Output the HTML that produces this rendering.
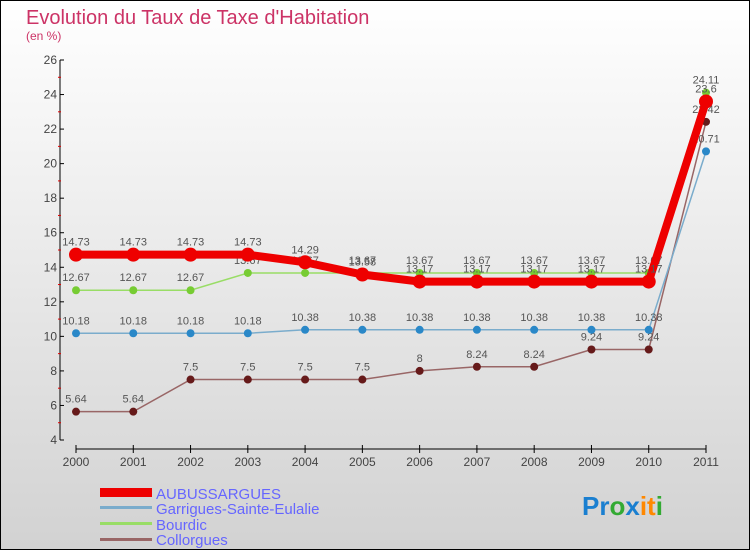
<!DOCTYPE html>
<html><head><meta charset="utf-8"><style>
body{margin:0;width:750px;height:550px;overflow:hidden;font-family:"Liberation Sans",sans-serif}
svg text{font-family:"Liberation Sans",sans-serif}
</style></head><body>
<svg id="c" width="750" height="550">
<defs><linearGradient id="bg" x1="0" y1="0" x2="0" y2="1"><stop offset="0" stop-color="#ffffff"/><stop offset="1" stop-color="#d2d2d2"/></linearGradient></defs>
<rect x="0.5" y="0.5" width="749" height="549" fill="url(#bg)" stroke="#000"/>
<text x="26" y="24" font-size="20" fill="#cc3366">Evolution du Taux de Taxe d'Habitation</text>
<text x="26" y="40" font-size="12" fill="#cc3366">(en %)</text>
<g id="axes"></g><g id="series"></g>
<g>
<rect x="100" y="488" width="52" height="9" fill="#ee0000"/>
<text x="156" y="499" font-size="15" fill="#6666ff">AUBUSSARGUES</text>
<rect x="100" y="506" width="52" height="3" fill="#7aaccc"/>
<text x="156" y="514" font-size="15" fill="#6666ff">Garrigues-Sainte-Eulalie</text>
<rect x="100" y="522" width="52" height="3" fill="#99dd66"/>
<text x="156" y="530" font-size="15" fill="#6666ff">Bourdic</text>
<rect x="100" y="538" width="52" height="3" fill="#996666"/>
<text x="156" y="545" font-size="15" fill="#6666ff">Collorgues</text>
</g>
<text x="582" y="515" font-size="26" font-weight="bold"><tspan fill="#1a7fd0">Pr</tspan><tspan fill="#33aa33">o</tspan><tspan fill="#1a7fd0">x</tspan><tspan fill="#ff8800">it</tspan><tspan fill="#33aa33">i</tspan></text>
</svg>
<script>
const years=["2000","2001","2002","2003","2004","2005","2006","2007","2008","2009","2010","2011"];
const yTicks=[4,6,8,10,12,14,16,18,20,22,24,26];
const aubussargues=[14.73,14.73,14.73,14.73,14.29,13.58,13.17,13.17,13.17,13.17,13.17,23.6];
const garrigues=[10.18,10.18,10.18,10.18,10.38,10.38,10.38,10.38,10.38,10.38,10.38,20.71];
const bourdic=[12.67,12.67,12.67,13.67,13.67,13.67,13.67,13.67,13.67,13.67,13.67,24.11];
const collorgues=[5.64,5.64,7.5,7.5,7.5,7.5,8,8.24,8.24,9.24,9.24,22.42];
const NS="http://www.w3.org/2000/svg";
const xs=i=>76+i*(630/11);
const ys=v=>440-(v-4)*(380/22);
function mk(tag,attrs,parent){const e=document.createElementNS(NS,tag);for(const k in attrs)e.setAttribute(k,attrs[k]);parent.appendChild(e);return e;}
const ax=document.getElementById('axes');
let l=mk('line',{x1:60,y1:ys(26),x2:60,y2:ys(4),stroke:'#000'},ax);


yTicks.forEach(v=>{
 mk('line',{x1:60,x2:64,y1:ys(v),y2:ys(v),stroke:'#000'},ax);
 if(v<26){mk('line',{x1:58,x2:61,y1:ys(v+1),y2:ys(v+1),stroke:'#dd0000'},ax);}
 const t=mk('text',{x:57,y:ys(v)+4,'text-anchor':'end','font-size':12,fill:'#444'},ax);t.textContent=v;
 
 
});
l=mk('line',{x1:76,y1:449,x2:706,y2:449,stroke:'#000'},ax);


years.forEach((y,i)=>{
 mk('line',{x1:xs(i),x2:xs(i),y1:445,y2:453,stroke:'#000'},ax);
 const t=mk('text',{x:xs(i),y:466,'text-anchor':'middle','font-size':12,fill:'#444'},ax);t.textContent=y;
 
 
});
const sg=document.getElementById('series');
function draw(vals,name,col,w,r,dot){
 const g=mk('g',{},sg);
 
 
 const p=mk('polyline',{points:vals.map((v,i)=>xs(i)+','+ys(v)).join(' '),fill:'none',stroke:col,'stroke-width':w},g);
 
 
 vals.forEach((v,i)=>{
  const c=mk('circle',{cx:xs(i),cy:ys(v),r:r,fill:dot},g);
  
  
  const t=mk('text',{x:xs(i),y:ys(v)-9,'text-anchor':'middle','font-size':11,fill:'#555'},g);
  t.textContent=String(v).replace('.','.');
  
  
 });
}
draw(collorgues,'collorgues','#996666',1.5,4,'#661a1a');
draw(garrigues,'garrigues','#7aaccc',1.5,4,'#2a88c8');
draw(bourdic,'bourdic','#99dd66',1.5,4,'#77cc33');
draw(aubussargues,'aubussargues','#ee0000',8,7,'#ee0000');
</script>
</body></html>
